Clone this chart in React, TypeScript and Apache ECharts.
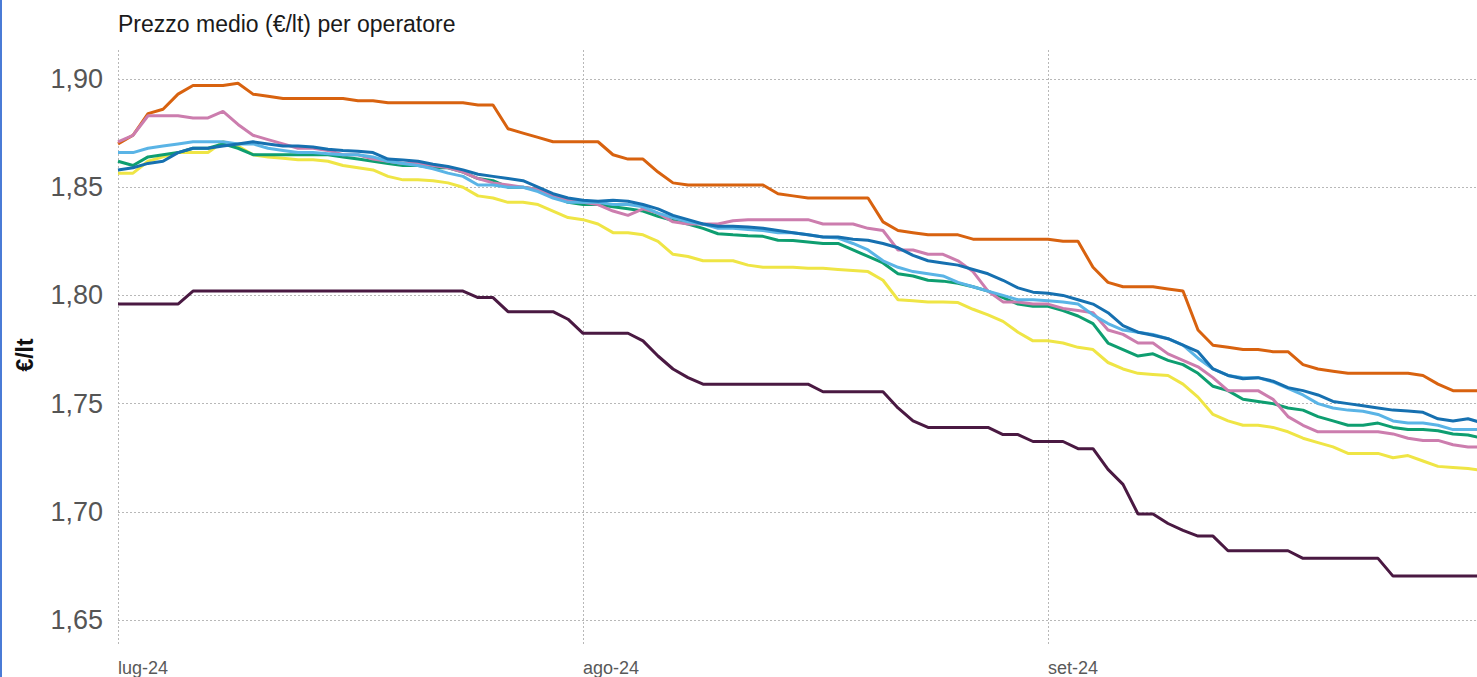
import React, { useEffect, useRef } from "react";
import * as echarts from "echarts";

// ---- data ----
const START = Date.UTC(2024, 6, 1);
const DAY = 86400000;
const dates: string[] = Array.from({ length: 92 }, (_, i) =>
  new Date(START + i * DAY).toISOString().slice(0, 10)
);
const monthStarts = ["2024-07-01", "2024-08-01", "2024-09-01"];
const monthLabels = ["lug-24", "ago-24", "set-24"];

const orange = [
  1.870, 1.874, 1.884, 1.886, 1.893, 1.897, 1.897, 1.897, 1.898, 1.893,
  1.892, 1.891, 1.891, 1.891, 1.891, 1.891, 1.890, 1.890, 1.889, 1.889,
  1.889, 1.889, 1.889, 1.889, 1.888, 1.888, 1.877, 1.875, 1.873, 1.871,
  1.871, 1.871, 1.871, 1.865, 1.863, 1.863, 1.857, 1.852, 1.851, 1.851,
  1.851, 1.851, 1.851, 1.851, 1.847, 1.846, 1.845, 1.845, 1.845, 1.845,
  1.845, 1.834, 1.830, 1.829, 1.828, 1.828, 1.828, 1.826, 1.826, 1.826,
  1.826, 1.826, 1.826, 1.825, 1.825, 1.813, 1.806, 1.804, 1.804, 1.804,
  1.803, 1.802, 1.784, 1.777, 1.776, 1.775, 1.775, 1.774, 1.774, 1.768,
  1.766, 1.765, 1.764, 1.764, 1.764, 1.764, 1.764, 1.763, 1.759, 1.756,
  1.756, 1.756,
];
const pink = [
  1.871, 1.874, 1.883, 1.883, 1.883, 1.882, 1.882, 1.885, 1.879, 1.874,
  1.872, 1.870, 1.868, 1.868, 1.867, 1.865, 1.865, 1.863, 1.862, 1.861,
  1.861, 1.860, 1.859, 1.857, 1.854, 1.852, 1.851, 1.850, 1.849, 1.846,
  1.844, 1.843, 1.842, 1.839, 1.837, 1.840, 1.838, 1.834, 1.833, 1.833,
  1.833, 1.8345, 1.835, 1.835, 1.835, 1.835, 1.835, 1.833, 1.833, 1.833,
  1.831, 1.830, 1.821, 1.821, 1.819, 1.819, 1.816, 1.811, 1.802, 1.797,
  1.797, 1.796, 1.796, 1.794, 1.793, 1.792, 1.784, 1.782, 1.778, 1.778,
  1.773, 1.770, 1.767, 1.762, 1.756, 1.756, 1.756, 1.752, 1.744, 1.740,
  1.737, 1.737, 1.737, 1.737, 1.737, 1.736, 1.734, 1.733, 1.733, 1.731,
  1.730, 1.730,
];
const lightBlue = [
  1.866, 1.866, 1.868, 1.869, 1.870, 1.871, 1.871, 1.871, 1.870, 1.870,
  1.868, 1.867, 1.866, 1.866, 1.8655, 1.865, 1.865, 1.864, 1.862, 1.861,
  1.860, 1.8585, 1.8565, 1.855, 1.851, 1.851, 1.850, 1.850, 1.848, 1.845,
  1.843, 1.843, 1.843, 1.842, 1.842, 1.841, 1.838, 1.836, 1.834, 1.833,
  1.831, 1.831, 1.8305, 1.830, 1.829, 1.829, 1.828, 1.827, 1.8265, 1.824,
  1.821, 1.816, 1.813, 1.811, 1.810, 1.809, 1.806, 1.804, 1.802, 1.800,
  1.798, 1.798, 1.7975, 1.797, 1.796, 1.791, 1.787, 1.784, 1.783, 1.782,
  1.780, 1.777, 1.771, 1.766, 1.763, 1.762, 1.762, 1.760, 1.757, 1.754,
  1.750, 1.748, 1.747, 1.7465, 1.745, 1.742, 1.741, 1.741, 1.740, 1.738,
  1.738, 1.738,
];
const blue = [
  1.858, 1.859, 1.861, 1.862, 1.866, 1.868, 1.868, 1.869, 1.870, 1.871,
  1.870, 1.869, 1.869, 1.8686, 1.8675, 1.867, 1.8666, 1.866, 1.863, 1.8626,
  1.862, 1.8606, 1.8596, 1.858, 1.856, 1.855, 1.854, 1.853, 1.850, 1.847,
  1.845, 1.844, 1.8435, 1.844, 1.8435, 1.842, 1.840, 1.837, 1.835, 1.833,
  1.832, 1.832, 1.8316, 1.831, 1.830, 1.829, 1.828, 1.827, 1.827, 1.826,
  1.8255, 1.824, 1.822, 1.8185, 1.816, 1.815, 1.814, 1.812, 1.810, 1.807,
  1.8035, 1.8015, 1.801, 1.800, 1.798, 1.796, 1.792, 1.786, 1.783, 1.7816,
  1.780, 1.777, 1.774, 1.766, 1.763, 1.7615, 1.762, 1.7604, 1.7574, 1.756,
  1.754, 1.751, 1.750, 1.749, 1.748, 1.747, 1.7466, 1.746, 1.743, 1.742,
  1.743, 1.741,
];
const green = [
  1.862, 1.860, 1.864, 1.865, 1.866, 1.868, 1.868, 1.870, 1.868, 1.865,
  1.865, 1.865, 1.865, 1.865, 1.865, 1.864, 1.863, 1.862, 1.861, 1.860,
  1.860, 1.859, 1.859, 1.857, 1.854, 1.853, 1.850, 1.850, 1.849, 1.846,
  1.843, 1.842, 1.842, 1.841, 1.840, 1.839, 1.8365, 1.8346, 1.833, 1.831,
  1.8285, 1.828, 1.8276, 1.8273, 1.8255, 1.8254, 1.8247, 1.824, 1.824, 1.821,
  1.818, 1.815, 1.810, 1.809, 1.807, 1.8066, 1.8056, 1.804, 1.802, 1.799,
  1.796, 1.795, 1.795, 1.793, 1.7905, 1.787, 1.778, 1.775, 1.772, 1.773,
  1.770, 1.768, 1.764, 1.758, 1.756, 1.752, 1.751, 1.750, 1.748, 1.747,
  1.744, 1.742, 1.740, 1.740, 1.741, 1.739, 1.738, 1.738, 1.7375, 1.736,
  1.7355, 1.734,
];
const yellow = [
  1.8565, 1.8565, 1.862, 1.864, 1.866, 1.866, 1.866, 1.871, 1.869, 1.865,
  1.864, 1.8634, 1.8627, 1.8627, 1.862, 1.860, 1.859, 1.858, 1.855, 1.8534,
  1.8534, 1.853, 1.852, 1.850, 1.846, 1.845, 1.843, 1.843, 1.842, 1.839,
  1.836, 1.835, 1.833, 1.829, 1.829, 1.828, 1.825, 1.819, 1.818, 1.816,
  1.816, 1.816, 1.814, 1.813, 1.813, 1.813, 1.8125, 1.8125, 1.812, 1.8115,
  1.811, 1.807, 1.798, 1.7975, 1.797, 1.797, 1.7967, 1.7936, 1.791, 1.788,
  1.783, 1.779, 1.779, 1.778, 1.776, 1.775, 1.769, 1.766, 1.764, 1.7635,
  1.763, 1.759, 1.753, 1.745, 1.742, 1.740, 1.740, 1.739, 1.737, 1.734,
  1.732, 1.730, 1.727, 1.727, 1.727, 1.725, 1.726, 1.7235, 1.721, 1.7205,
  1.720, 1.719,
];
const purple = [
  1.796, 1.796, 1.796, 1.796, 1.796, 1.802, 1.802, 1.802, 1.802, 1.802,
  1.802, 1.802, 1.802, 1.802, 1.802, 1.802, 1.802, 1.802, 1.802, 1.802,
  1.802, 1.802, 1.802, 1.802, 1.799, 1.799, 1.7925, 1.7925, 1.7925, 1.7925,
  1.789, 1.7825, 1.7825, 1.7825, 1.7825, 1.779, 1.772, 1.766, 1.762, 1.759,
  1.759, 1.759, 1.759, 1.759, 1.759, 1.759, 1.759, 1.7555, 1.7555, 1.7555,
  1.7555, 1.7555, 1.748, 1.742, 1.739, 1.739, 1.739, 1.739, 1.739, 1.7357,
  1.7357, 1.7325, 1.7325, 1.7325, 1.7292, 1.7292, 1.7196, 1.7127, 1.699, 1.699,
  1.6946, 1.6914, 1.6888, 1.6888, 1.682, 1.682, 1.682, 1.682, 1.682, 1.6785,
  1.6785, 1.6785, 1.6785, 1.6785, 1.6785, 1.6703, 1.6703, 1.6703, 1.6703, 1.6703,
  1.6703, 1.6703,
];

const seriesDefs = [
  { name: "Operatore 1", data: orange, color: "#D8620F" },
  { name: "Operatore 2", data: yellow, color: "#EFE545" },
  { name: "Operatore 3", data: green, color: "#0E9E70" },
  { name: "Operatore 4", data: pink, color: "#CC7DAE" },
  { name: "Operatore 5", data: lightBlue, color: "#5AB4E6" },
  { name: "Operatore 6", data: blue, color: "#1670B0" },
  { name: "Operatore 7", data: purple, color: "#4A1942" },
];

const FONT = "'Liberation Sans', Arial, Helvetica, sans-serif";

export default function App() {
  const ref = useRef<HTMLDivElement>(null);

  useEffect(() => {
    if (!ref.current) return;
    const chart = echarts.init(ref.current, null, { renderer: "svg" });
    const isMonthStart = (_i: number, v: string) => monthStarts.indexOf(v) >= 0;
    chart.setOption({
      animation: false,
      backgroundColor: "#ffffff",
      title: {
        text: "Prezzo medio (€/lt) per operatore",
        left: 118,
        top: 12,
        padding: 0,
        textStyle: { fontSize: 23, fontWeight: "normal", color: "#1a1a1a", fontFamily: FONT },
      },
      grid: { left: 118, right: 0, top: 50, bottom: 30, containLabel: false },
      xAxis: {
        type: "category",
        data: dates,
        boundaryGap: false,
        axisLine: { show: false },
        axisTick: { show: false },
        axisLabel: {
          interval: isMonthStart,
          align: "left",
          margin: 13,
          fontSize: 18,
          color: "#595959",
          fontFamily: FONT,
          formatter: (v: string) => {
            const k = monthStarts.indexOf(v);
            return k >= 0 ? monthLabels[k] : "";
          },
        },
        splitLine: {
          show: true,
          interval: isMonthStart,
          lineStyle: { color: "#b8b8b8", type: [2, 2], width: 1 },
        },
      },
      yAxis: {
        type: "value",
        min: 1.638,
        max: 1.9134,
        splitNumber: 5,
        name: "€/lt",
        nameLocation: "middle",
        nameGap: 82,
        nameRotate: 90,
        nameTextStyle: { fontSize: 23, fontWeight: "bold", color: "#111", fontFamily: FONT, padding: [0, 14, 0, 0] },
        axisLine: { show: false },
        axisTick: { show: false },
        axisLabel: {
          showMinLabel: false,
          showMaxLabel: false,
          margin: 15,
          fontSize: 27,
          color: "#555555",
          fontFamily: FONT,
          formatter: (v: number) => v.toFixed(2).replace(".", ","),
        },
        splitLine: {
          show: true,
          showMinLine: false,
          showMaxLine: false,
          lineStyle: { color: "#b8b8b8", type: [2, 2], width: 1 },
        },
      },
      series: seriesDefs.map((s) => ({
        type: "line",
        name: s.name,
        data: s.data,
        symbol: "none",
        smooth: false,
        lineStyle: { color: s.color, width: 3 },
        itemStyle: { color: s.color },
      })),
    });
    return () => chart.dispose();
  }, []);

  return (
    <div
      style={{
        position: "fixed",
        left: 0,
        top: 0,
        width: 1477,
        height: 677,
        overflow: "hidden",
        background: "#ffffff",
      }}
    >
      <div ref={ref} style={{ position: "absolute", left: 0, top: 0, width: 1483, height: 677 }} />
      <div
        style={{
          position: "absolute",
          left: 0,
          top: 0,
          width: 2,
          height: 677,
          background: "#4a7bd6",
        }}
      />
    </div>
  );
}
